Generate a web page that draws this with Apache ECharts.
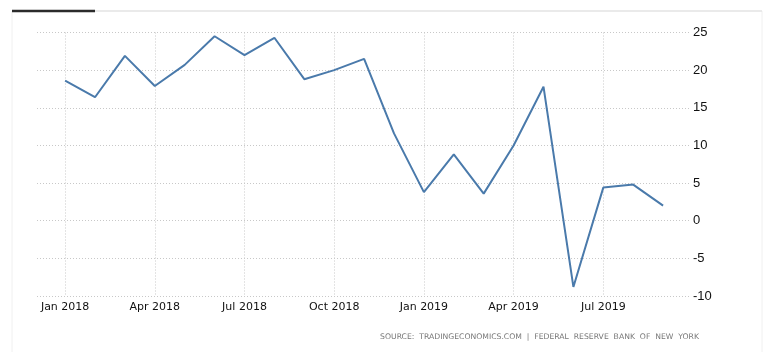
<!DOCTYPE html>
<html>
<head>
<meta charset="utf-8">
<script src="https://cdn.jsdelivr.net/npm/echarts@6/dist/echarts.min.js"></script>
<style>
html, body { margin: 0; padding: 0; background: #fff; }
#chart { width: 771px; height: 352px; }
</style>
</head>
<body>
<div id="chart"></div>
<script>
// months Jan 2018 .. Sep 2019
var months = ['Jan 2018', 'Feb 2018', 'Mar 2018', 'Apr 2018', 'May 2018', 'Jun 2018',
  'Jul 2018', 'Aug 2018', 'Sep 2018', 'Oct 2018', 'Nov 2018', 'Dec 2018',
  'Jan 2019', 'Feb 2019', 'Mar 2019', 'Apr 2019', 'May 2019', 'Jun 2019',
  'Jul 2019', 'Aug 2019', 'Sep 2019'];
var values = [18.6, 16.4, 21.9, 17.9, 20.7, 24.5, 22.0, 24.3, 18.8, 20.0, 21.5, 11.6,
  3.8, 8.8, 3.6, 10.0, 17.8, -8.8, 4.4, 4.8, 2.0];
var labelMonths = [0, 3, 6, 9, 12, 15, 18];
var yTicks = [-10, -5, 0, 5, 10, 15, 20, 25];
var source = 'SOURCE:  TRADINGECONOMICS.COM  |  FEDERAL  RESERVE  BANK  OF  NEW  YORK';

var myChart = echarts.init(document.getElementById('chart'));

var points = [];
for (var i = 0; i < values.length; i++) {
  points.push([i, values[i]]);
}

var option = {
  backgroundColor: '#fff',
  animation: false,
  grid: { left: 37, right: 81, top: 32.5, bottom: 56 },
  xAxis: {
    type: 'value',
    min: -0.94,
    max: 20.9,
    axisLine: { show: false },
    axisTick: { show: false, customValues: labelMonths },
    axisLabel: {
      customValues: labelMonths,
      formatter: function (v) { return months[Math.round(v)]; },
      color: '#111',
      fontFamily: 'DejaVu Sans',
      fontSize: 11,
      margin: 6
    },
    splitLine: { show: true, lineStyle: { color: '#c8c8c8', type: [1, 2], width: 1 } }
  },
  yAxis: {
    type: 'value',
    position: 'right',
    min: yTicks[0],
    max: yTicks[yTicks.length - 1],
    interval: 5,
    axisLine: { show: false },
    axisTick: { show: false },
    axisLabel: {
      color: '#111',
      fontFamily: 'Liberation Sans Narrow, Liberation Sans',
      fontSize: 13,
      margin: 3
    },
    splitLine: { show: true, lineStyle: { color: '#c8c8c8', type: [1, 2], width: 1 } }
  },
  series: [{
    type: 'line',
    data: points,
    showSymbol: false,
    lineStyle: { color: '#4a7aab', width: 2 },
    itemStyle: { color: '#4a7aab' }
  }],
  graphic: [
    { type: 'rect', shape: { x: 12, y: 11, width: 750, height: 345 }, style: { fill: 'none', stroke: '#f0f0f0', lineWidth: 1 }, silent: true },
    { type: 'line', shape: { x1: 12, y1: 11, x2: 762, y2: 11 }, style: { stroke: '#dddddd', lineWidth: 1 }, silent: true },
    { type: 'line', shape: { x1: 12, y1: 11, x2: 95, y2: 11 }, style: { stroke: '#2b2b2b', lineWidth: 2.5 }, silent: true },
    { type: 'text', right: 72, top: 333.5, style: { text: source, fill: '#777', font: '7.7px DejaVu Sans' }, silent: true }
  ]
};

myChart.setOption(option);
</script>
</body>
</html>
